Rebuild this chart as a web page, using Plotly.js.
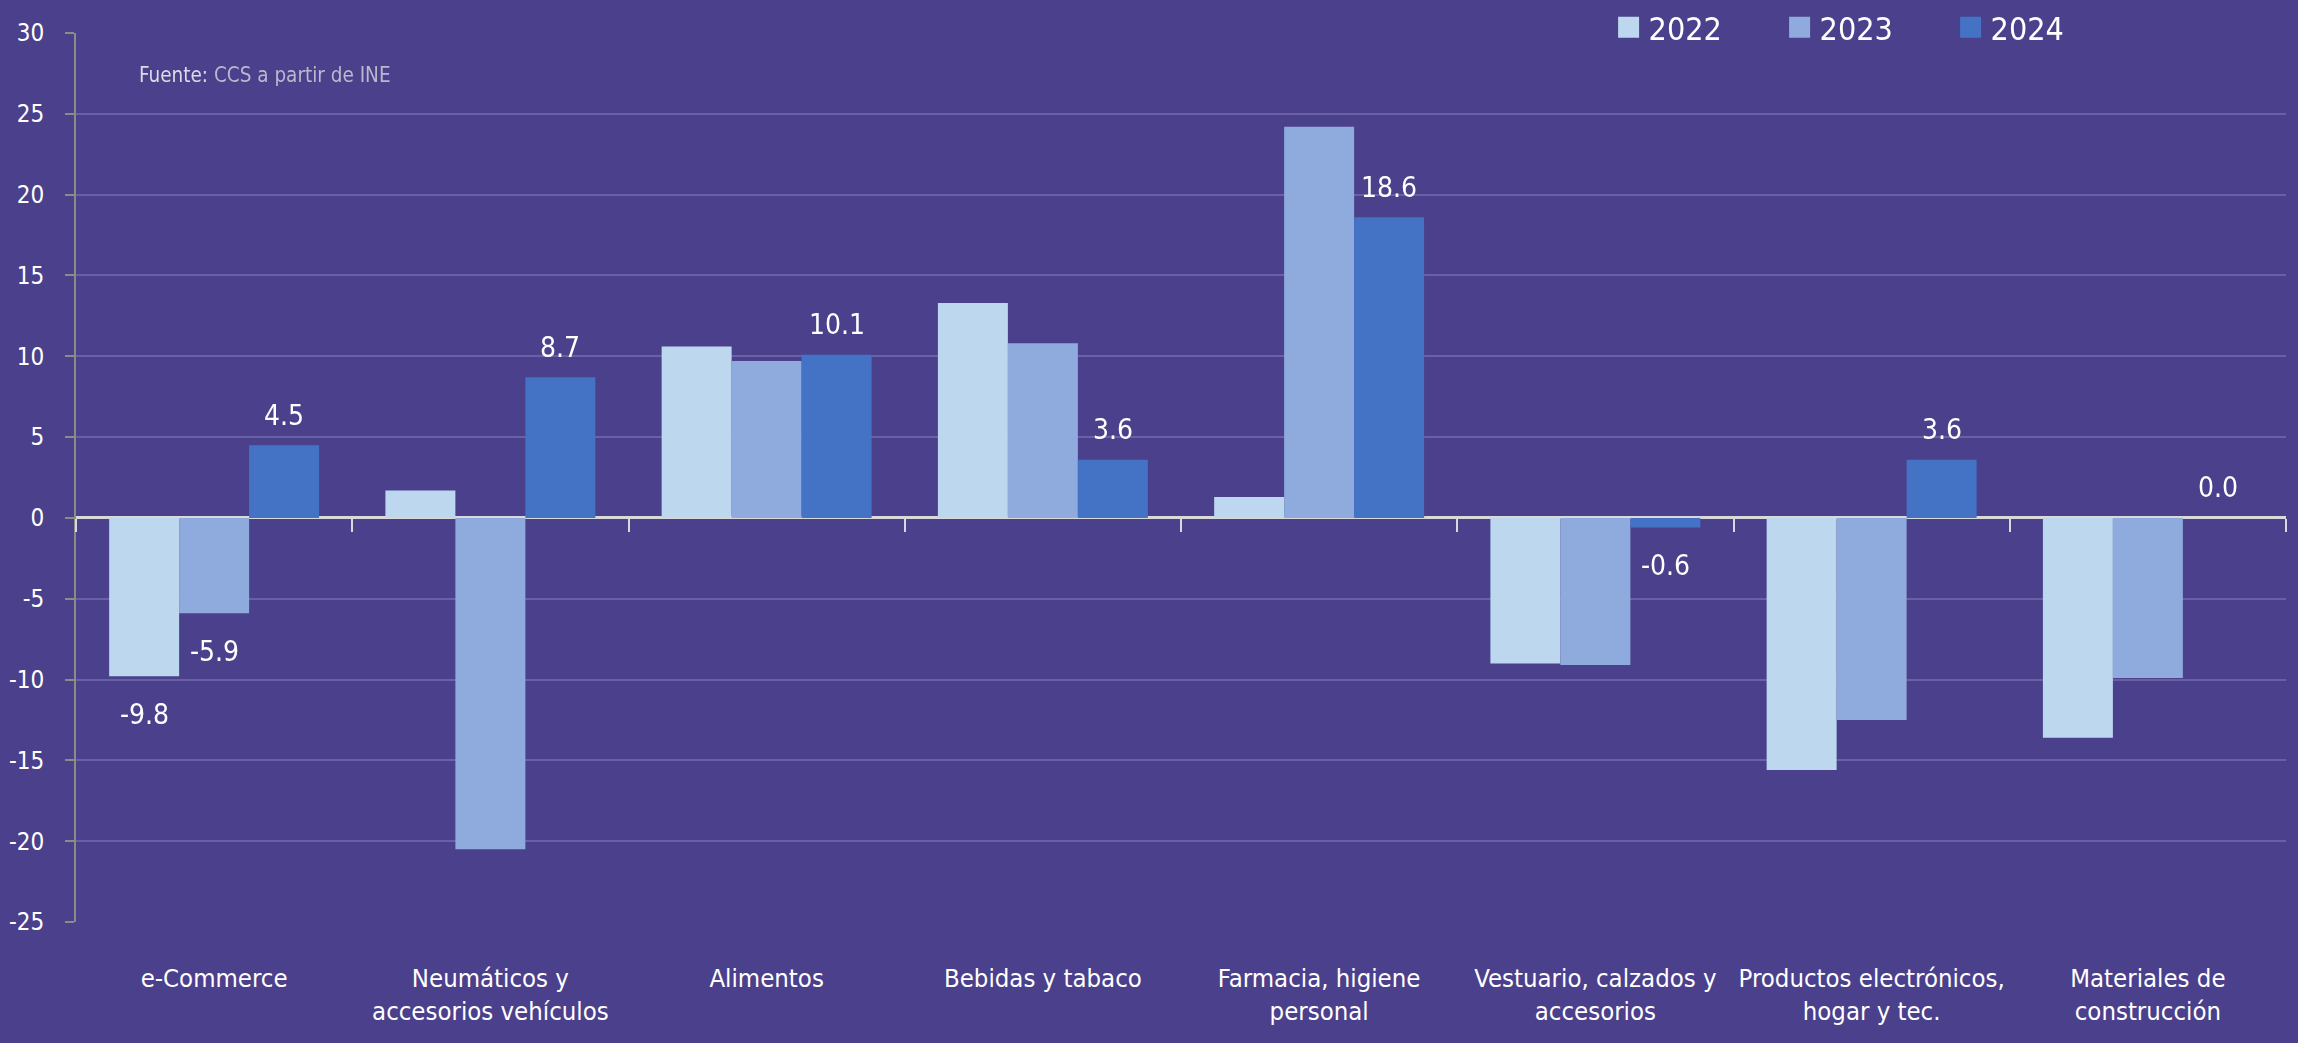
<!DOCTYPE html>
<html>
<head>
<meta charset="utf-8">
<script src="https://cdn.plot.ly/plotly-3.0.1.min.js"></script>
<style>
  html, body { margin: 0; padding: 0; background: #4B408C; }
  #chart { width: 2298px; height: 1043px; }
</style>
</head>
<body>
<div id="chart"></div>
<script>
// ---- Data ----
const categories = [
  'e-Commerce',
  'Neumáticos y<br>accesorios vehículos',
  'Alimentos',
  'Bebidas y tabaco',
  'Farmacia, higiene<br>personal',
  'Vestuario, calzados y<br>accesorios',
  'Productos electrónicos,<br>hogar y tec.',
  'Materiales de<br>construcción'
];
const seriesNames = ['2022', '2023', '2024'];
const values2022 = [-9.8, 1.7, 10.6, 13.3, 1.3, -9.0, -15.6, -13.6];
const values2023 = [-5.9, -20.5, 9.7, 10.8, 24.2, -9.1, -12.5, -9.9];
const values2024 = [4.5, 8.7, 10.1, 3.6, 18.6, -0.6, 3.6, 0.0];
const labeled2022 = [true, false, false, false, false, false, false, false];
const labeled2023 = [true, false, false, false, false, false, false, false];
const labeled2024 = [true, true, true, true, true, true, true, true];
const yTickValues = [-25, -20, -15, -10, -5, 0, 5, 10, 15, 20, 25, 30];
const yTickLabels = ['-25', '-20', '-15', '-10', '-5', '0', '5', '10', '15', '20', '25', '30'];
const sourceNote = '<span style="color:#dcdce6">Fuente:</span> CCS a partir de INE';

// ---- Style ----
const FONT = "'DejaVu Sans Condensed', 'Liberation Sans Narrow', 'Arial Narrow', sans-serif";
const BG = '#4B408C';
const GRID = '#6A60A6';
const colors = ['#BDD7EE', '#8FAADC', '#4472C4'];
const yRange = [-25, 30];
const BARGAP = 0.24;

const allValues = [values2022, values2023, values2024];
const allLabeled = [labeled2022, labeled2023, labeled2024];

const traces = [];
allValues.forEach((vals, s) => {
  traces.push({
    type: 'bar',
    name: seriesNames[s],
    x: categories,
    y: vals,
    marker: { color: colors[s], line: { width: 0 } },
    showlegend: false,
    hoverinfo: 'x+y'
  });
});
// legend-only entries with larger square swatches
seriesNames.forEach((nm, s) => {
  traces.push({
    type: 'scatter',
    mode: 'markers',
    name: nm,
    x: [categories[0]],
    y: [null],
    marker: { symbol: 'square', size: 16, color: colors[s], line: { color: colors[s], width: 5 } },
    hoverinfo: 'skip'
  });
});
// helper trace carrying the axis that draws the category tick marks on the zero line
traces.push({
  type: 'scatter', mode: 'markers', x: categories, y: values2024,
  xaxis: 'x2', opacity: 0, hoverinfo: 'skip', showlegend: false,
  marker: { size: 1 }
});

// data labels
const groupW = (1 - BARGAP) / 3;
const annotations = [];
allValues.forEach((vals, s) => {
  vals.forEach((v, i) => {
    if (!allLabeled[s][i]) return;
    annotations.push({
      xref: 'x', yref: 'y',
      x: i + (s - 1) * groupW,
      y: v,
      text: v.toFixed(1),
      showarrow: false,
      xanchor: 'center', yanchor: 'middle',
      yshift: v >= 0 ? 30 : -38,
      font: { family: FONT, size: 28, color: '#FFFFFF' }
    });
  });
});
annotations.push({
  xref: 'paper', yref: 'paper',
  x: 0.0276, y: 0.9528,
  xanchor: 'left', yanchor: 'middle',
  text: sourceNote,
  showarrow: false,
  font: { family: FONT, size: 20.5, color: '#B9B9CC' }
});

const zeroPos = (0 - yRange[0]) / (yRange[1] - yRange[0]);

const layout = {
  width: 2298,
  height: 1043,
  paper_bgcolor: BG,
  plot_bgcolor: BG,
  margin: { l: 76, r: 12, t: 33, b: 121, autoexpand: false },
  font: { family: FONT, color: '#FFFFFF' },
  barmode: 'group',
  bargap: BARGAP,
  bargroupgap: 0,
  showlegend: true,
  legend: {
    orientation: 'h',
    xref: 'container', yref: 'container',
    x: 0.700, y: 1.0,
    xanchor: 'left', yanchor: 'top',
    bgcolor: 'rgba(0,0,0,0)',
    font: { family: FONT, size: 32, color: '#FFFFFF' },
    entrywidth: 126,
    traceorder: 'normal'
  },
  xaxis: {
    type: 'category',
    categoryorder: 'array',
    categoryarray: categories,
    range: [-0.5, categories.length - 0.5],
    showgrid: false,
    zeroline: false,
    showline: false,
    ticks: '',
    tickangle: 0,
    automargin: false,
    tickfont: { family: FONT, size: 25.5, color: '#FFFFFF' },
    ticklabelstandoff: 38,
    fixedrange: true
  },
  xaxis2: {
    type: 'category',
    categoryorder: 'array',
    categoryarray: categories,
    range: [-0.5, categories.length - 0.5],
    overlaying: 'x',
    anchor: 'free',
    position: zeroPos,
    side: 'bottom',
    showgrid: false,
    zeroline: false,
    showline: false,
    showticklabels: false,
    ticks: 'outside',
    tickson: 'boundaries',
    ticklen: 13,
    tickwidth: 2,
    tickcolor: '#D9D9D9',
    automargin: false,
    fixedrange: true
  },
  yaxis: {
    range: yRange,
    tickvals: yTickValues,
    ticktext: yTickLabels,
    showgrid: true,
    gridcolor: GRID,
    gridwidth: 2,
    zeroline: true,
    zerolinecolor: '#D9D9D9',
    zerolinewidth: 3,
    showline: true,
    linecolor: '#8C8C84',
    linewidth: 2,
    ticks: 'outside',
    ticklen: 9,
    tickwidth: 2,
    tickcolor: '#8C8C84',
    tickfont: { family: FONT, size: 24, color: '#FFFFFF' },
    ticklabelstandoff: 16,
    automargin: false,
    fixedrange: true
  },
  annotations: annotations
};

Plotly.newPlot('chart', traces, layout, { displayModeBar: false, staticPlot: true });
</script>
</body>
</html>
